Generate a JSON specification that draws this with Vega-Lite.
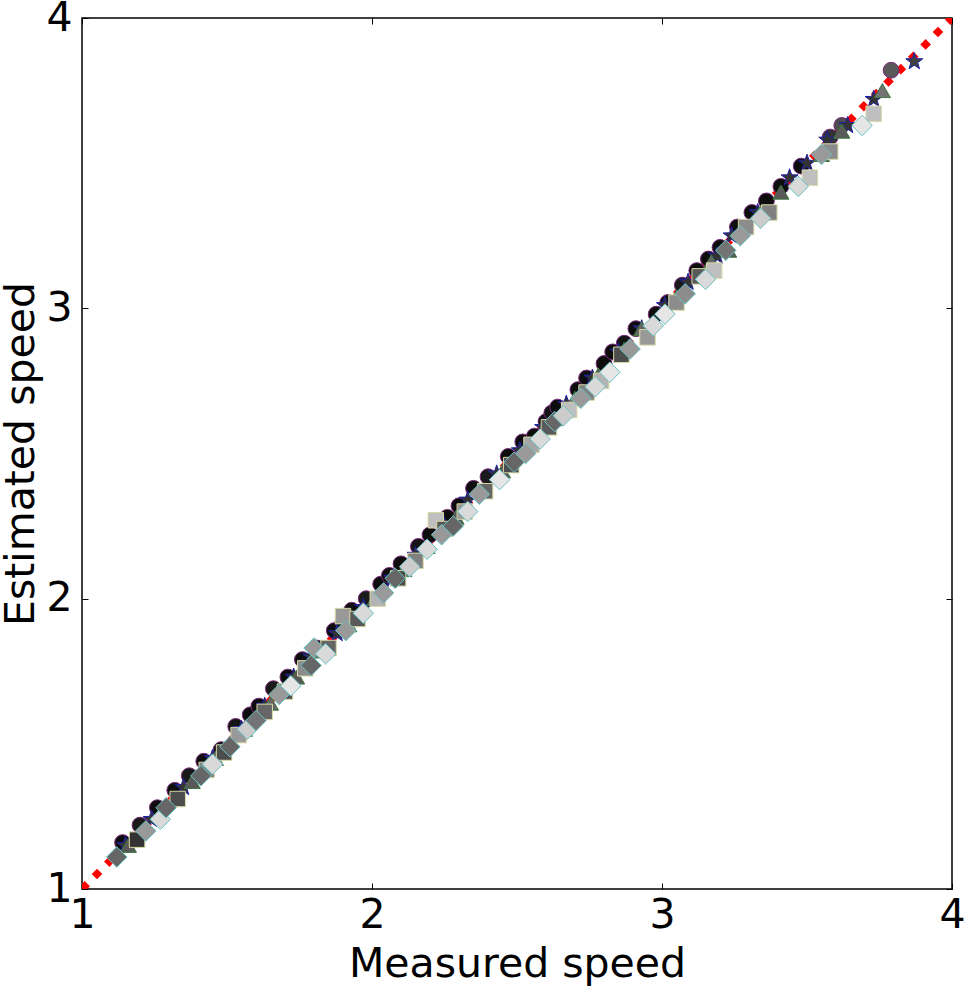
{
  "$schema": "https://vega.github.io/schema/vega-lite/v6.json",
  "width": 870,
  "height": 871,
  "autosize": {"type": "none"},
  "padding": {"left": 82, "top": 18, "right": 12, "bottom": 97},
  "background": "white",
  "config": {
    "view": {"stroke": "black", "strokeWidth": 1.5},
    "axis": {
      "grid": false,
      "domain": false,
      "labelFont": "DejaVu Sans",
      "labelFontSize": 41,
      "titleFont": "DejaVu Sans",
      "titleFontSize": 41,
      "titleFontWeight": "normal",
      "labelColor": "black",
      "titleColor": "black",
      "tickColor": "black",
      "tickSize": -6,
      "tickWidth": 1,
      "labelOverlap": false,
      "labelFlush": false,
      "labelBound": false
    }
  },
  "datasets": {
    "diag": [{"m": 1, "e": 1}, {"m": 4, "e": 4}],
    "pts": [
      {"m": 1.14, "e": 1.16, "s": "circle", "g": 0.05},
      {"m": 1.20, "e": 1.22, "s": "circle", "g": 0.1},
      {"m": 1.26, "e": 1.28, "s": "circle", "g": 0.05},
      {"m": 1.32, "e": 1.34, "s": "circle", "g": 0.05},
      {"m": 1.37, "e": 1.39, "s": "circle", "g": 0.1},
      {"m": 1.42, "e": 1.44, "s": "circle", "g": 0.05},
      {"m": 1.48, "e": 1.48, "s": "circle", "g": 0.05},
      {"m": 1.53, "e": 1.56, "s": "circle", "g": 0.08},
      {"m": 1.58, "e": 1.60, "s": "circle", "g": 0.05},
      {"m": 1.61, "e": 1.63, "s": "circle", "g": 0.05},
      {"m": 1.66, "e": 1.69, "s": "circle", "g": 0.1},
      {"m": 1.71, "e": 1.73, "s": "circle", "g": 0.05},
      {"m": 1.76, "e": 1.79, "s": "circle", "g": 0.05},
      {"m": 1.81, "e": 1.83, "s": "circle", "g": 0.08},
      {"m": 1.87, "e": 1.89, "s": "circle", "g": 0.05},
      {"m": 1.90, "e": 1.92, "s": "circle", "g": 0.05},
      {"m": 1.93, "e": 1.96, "s": "circle", "g": 0.05},
      {"m": 1.98, "e": 2.00, "s": "circle", "g": 0.1},
      {"m": 2.03, "e": 2.05, "s": "circle", "g": 0.05},
      {"m": 2.06, "e": 2.08, "s": "circle", "g": 0.05},
      {"m": 2.10, "e": 2.12, "s": "circle", "g": 0.05},
      {"m": 2.16, "e": 2.18, "s": "circle", "g": 0.08},
      {"m": 2.20, "e": 2.22, "s": "circle", "g": 0.05},
      {"m": 2.26, "e": 2.28, "s": "circle", "g": 0.05},
      {"m": 2.30, "e": 2.32, "s": "circle", "g": 0.05},
      {"m": 2.35, "e": 2.38, "s": "circle", "g": 0.05},
      {"m": 2.40, "e": 2.42, "s": "circle", "g": 0.1},
      {"m": 2.47, "e": 2.49, "s": "circle", "g": 0.05},
      {"m": 2.52, "e": 2.54, "s": "circle", "g": 0.05},
      {"m": 2.56, "e": 2.56, "s": "circle", "g": 0.05},
      {"m": 2.60, "e": 2.61, "s": "circle", "g": 0.05},
      {"m": 2.62, "e": 2.64, "s": "circle", "g": 0.08},
      {"m": 2.64, "e": 2.66, "s": "circle", "g": 0.05},
      {"m": 2.71, "e": 2.72, "s": "circle", "g": 0.05},
      {"m": 2.74, "e": 2.76, "s": "circle", "g": 0.05},
      {"m": 2.80, "e": 2.81, "s": "circle", "g": 0.05},
      {"m": 2.83, "e": 2.85, "s": "circle", "g": 0.05},
      {"m": 2.87, "e": 2.88, "s": "circle", "g": 0.08},
      {"m": 2.91, "e": 2.93, "s": "circle", "g": 0.05},
      {"m": 2.98, "e": 2.98, "s": "circle", "g": 0.05},
      {"m": 3.02, "e": 3.02, "s": "circle", "g": 0.05},
      {"m": 3.07, "e": 3.08, "s": "circle", "g": 0.1},
      {"m": 3.12, "e": 3.13, "s": "circle", "g": 0.05},
      {"m": 3.16, "e": 3.17, "s": "circle", "g": 0.05},
      {"m": 3.20, "e": 3.21, "s": "circle", "g": 0.05},
      {"m": 3.26, "e": 3.28, "s": "circle", "g": 0.05},
      {"m": 3.31, "e": 3.33, "s": "circle", "g": 0.05},
      {"m": 3.36, "e": 3.37, "s": "circle", "g": 0.05},
      {"m": 3.41, "e": 3.42, "s": "circle", "g": 0.05},
      {"m": 3.48, "e": 3.49, "s": "circle", "g": 0.05},
      {"m": 3.58, "e": 3.59, "s": "circle", "g": 0.2},
      {"m": 3.62, "e": 3.63, "s": "circle", "g": 0.3},
      {"m": 3.79, "e": 3.82, "s": "circle", "g": 0.35},

      {"m": 1.15, "e": 1.15, "s": "star", "g": 0.2},
      {"m": 1.24, "e": 1.24, "s": "star", "g": 0.2},
      {"m": 1.35, "e": 1.35, "s": "star", "g": 0.2},
      {"m": 1.45, "e": 1.45, "s": "star", "g": 0.2},
      {"m": 1.55, "e": 1.55, "s": "star", "g": 0.2},
      {"m": 1.63, "e": 1.63, "s": "star", "g": 0.2},
      {"m": 1.73, "e": 1.73, "s": "star", "g": 0.2},
      {"m": 1.79, "e": 1.80, "s": "star", "g": 0.2},
      {"m": 1.88, "e": 1.88, "s": "star", "g": 0.2},
      {"m": 1.97, "e": 1.97, "s": "star", "g": 0.2},
      {"m": 2.07, "e": 2.07, "s": "star", "g": 0.2},
      {"m": 2.15, "e": 2.15, "s": "star", "g": 0.2},
      {"m": 2.25, "e": 2.25, "s": "star", "g": 0.2},
      {"m": 2.33, "e": 2.34, "s": "star", "g": 0.2},
      {"m": 2.43, "e": 2.43, "s": "star", "g": 0.2},
      {"m": 2.51, "e": 2.51, "s": "star", "g": 0.2},
      {"m": 2.59, "e": 2.59, "s": "star", "g": 0.2},
      {"m": 2.67, "e": 2.67, "s": "star", "g": 0.2},
      {"m": 2.76, "e": 2.76, "s": "star", "g": 0.2},
      {"m": 2.85, "e": 2.85, "s": "star", "g": 0.2},
      {"m": 2.93, "e": 2.93, "s": "star", "g": 0.2},
      {"m": 3.01, "e": 3.01, "s": "star", "g": 0.2},
      {"m": 3.09, "e": 3.09, "s": "star", "g": 0.2},
      {"m": 3.19, "e": 3.18, "s": "star", "g": 0.2},
      {"m": 3.24, "e": 3.25, "s": "star", "g": 0.2},
      {"m": 3.33, "e": 3.33, "s": "star", "g": 0.2},
      {"m": 3.44, "e": 3.45, "s": "star", "g": 0.2},
      {"m": 3.50, "e": 3.50, "s": "star", "g": 0.2},
      {"m": 3.57, "e": 3.58, "s": "star", "g": 0.2},
      {"m": 3.64, "e": 3.63, "s": "star", "g": 0.2},
      {"m": 3.73, "e": 3.72, "s": "star", "g": 0.2},
      {"m": 3.87, "e": 3.85, "s": "star", "g": 0.25},

      {"m": 1.16, "e": 1.15, "s": "triangle", "g": 0.35},
      {"m": 1.27, "e": 1.26, "s": "triangle", "g": 0.4},
      {"m": 1.38, "e": 1.37, "s": "triangle", "g": 0.35},
      {"m": 1.46, "e": 1.45, "s": "triangle", "g": 0.4},
      {"m": 1.56, "e": 1.55, "s": "triangle", "g": 0.35},
      {"m": 1.65, "e": 1.64, "s": "triangle", "g": 0.4},
      {"m": 1.74, "e": 1.73, "s": "triangle", "g": 0.35},
      {"m": 1.83, "e": 1.82, "s": "triangle", "g": 0.4},
      {"m": 1.92, "e": 1.91, "s": "triangle", "g": 0.35},
      {"m": 2.01, "e": 2.00, "s": "triangle", "g": 0.4},
      {"m": 2.11, "e": 2.10, "s": "triangle", "g": 0.35},
      {"m": 2.19, "e": 2.18, "s": "triangle", "g": 0.4},
      {"m": 2.29, "e": 2.28, "s": "triangle", "g": 0.35},
      {"m": 2.38, "e": 2.37, "s": "triangle", "g": 0.4},
      {"m": 2.45, "e": 2.44, "s": "triangle", "g": 0.35},
      {"m": 2.54, "e": 2.53, "s": "triangle", "g": 0.4},
      {"m": 2.63, "e": 2.62, "s": "triangle", "g": 0.35},
      {"m": 2.70, "e": 2.69, "s": "triangle", "g": 0.4},
      {"m": 2.78, "e": 2.77, "s": "triangle", "g": 0.35},
      {"m": 2.87, "e": 2.86, "s": "triangle", "g": 0.3},
      {"m": 2.93, "e": 2.93, "s": "triangle", "g": 0.4},
      {"m": 3.05, "e": 3.04, "s": "triangle", "g": 0.35},
      {"m": 3.17, "e": 3.16, "s": "triangle", "g": 0.4},
      {"m": 3.23, "e": 3.20, "s": "triangle", "g": 0.35},
      {"m": 3.34, "e": 3.33, "s": "triangle", "g": 0.4},
      {"m": 3.41, "e": 3.40, "s": "triangle", "g": 0.35},
      {"m": 3.55, "e": 3.53, "s": "triangle", "g": 0.4},
      {"m": 3.62, "e": 3.61, "s": "triangle", "g": 0.35},
      {"m": 3.76, "e": 3.75, "s": "triangle", "g": 0.45},

      {"m": 1.19, "e": 1.17, "s": "square", "g": 0.2},
      {"m": 1.33, "e": 1.31, "s": "square", "g": 0.3},
      {"m": 1.43, "e": 1.41, "s": "square", "g": 0.5},
      {"m": 1.49, "e": 1.47, "s": "square", "g": 0.3},
      {"m": 1.54, "e": 1.53, "s": "square", "g": 0.6},
      {"m": 1.63, "e": 1.61, "s": "square", "g": 0.4},
      {"m": 1.70, "e": 1.68, "s": "square", "g": 0.3},
      {"m": 1.77, "e": 1.76, "s": "square", "g": 0.55},
      {"m": 1.85, "e": 1.83, "s": "square", "g": 0.4},
      {"m": 1.90, "e": 1.94, "s": "square", "g": 0.6},
      {"m": 1.95, "e": 1.93, "s": "square", "g": 0.35},
      {"m": 2.02, "e": 2.00, "s": "square", "g": 0.7},
      {"m": 2.09, "e": 2.07, "s": "square", "g": 0.3},
      {"m": 2.15, "e": 2.13, "s": "square", "g": 0.5},
      {"m": 2.22, "e": 2.27, "s": "square", "g": 0.75},
      {"m": 2.25, "e": 2.24, "s": "square", "g": 0.35},
      {"m": 2.32, "e": 2.30, "s": "square", "g": 0.6},
      {"m": 2.39, "e": 2.37, "s": "square", "g": 0.4},
      {"m": 2.48, "e": 2.46, "s": "square", "g": 0.3},
      {"m": 2.55, "e": 2.53, "s": "square", "g": 0.65},
      {"m": 2.61, "e": 2.59, "s": "square", "g": 0.35},
      {"m": 2.68, "e": 2.65, "s": "square", "g": 0.75},
      {"m": 2.74, "e": 2.71, "s": "square", "g": 0.5},
      {"m": 2.79, "e": 2.75, "s": "square", "g": 0.7},
      {"m": 2.86, "e": 2.84, "s": "square", "g": 0.3},
      {"m": 2.95, "e": 2.90, "s": "square", "g": 0.6},
      {"m": 3.05, "e": 3.02, "s": "square", "g": 0.55},
      {"m": 3.13, "e": 3.11, "s": "square", "g": 0.35},
      {"m": 3.18, "e": 3.13, "s": "square", "g": 0.75},
      {"m": 3.29, "e": 3.28, "s": "square", "g": 0.55},
      {"m": 3.37, "e": 3.33, "s": "square", "g": 0.5},
      {"m": 3.51, "e": 3.45, "s": "square", "g": 0.75},
      {"m": 3.58, "e": 3.54, "s": "square", "g": 0.55},
      {"m": 3.73, "e": 3.67, "s": "square", "g": 0.75},

      {"m": 1.12, "e": 1.11, "s": "diamond", "g": 0.4},
      {"m": 1.22, "e": 1.20, "s": "diamond", "g": 0.6},
      {"m": 1.27, "e": 1.24, "s": "diamond", "g": 0.85},
      {"m": 1.29, "e": 1.28, "s": "diamond", "g": 0.4},
      {"m": 1.41, "e": 1.39, "s": "diamond", "g": 0.4},
      {"m": 1.45, "e": 1.43, "s": "diamond", "g": 0.85},
      {"m": 1.51, "e": 1.49, "s": "diamond", "g": 0.4},
      {"m": 1.57, "e": 1.55, "s": "diamond", "g": 0.8},
      {"m": 1.60, "e": 1.58, "s": "diamond", "g": 0.45},
      {"m": 1.68, "e": 1.67, "s": "diamond", "g": 0.6},
      {"m": 1.72, "e": 1.70, "s": "diamond", "g": 0.9},
      {"m": 1.79, "e": 1.77, "s": "diamond", "g": 0.4},
      {"m": 1.80, "e": 1.83, "s": "diamond", "g": 0.6},
      {"m": 1.84, "e": 1.81, "s": "diamond", "g": 0.85},
      {"m": 1.91, "e": 1.89, "s": "diamond", "g": 0.6},
      {"m": 1.97, "e": 1.95, "s": "diamond", "g": 0.85},
      {"m": 2.04, "e": 2.02, "s": "diamond", "g": 0.6},
      {"m": 2.08, "e": 2.07, "s": "diamond", "g": 0.4},
      {"m": 2.13, "e": 2.11, "s": "diamond", "g": 0.8},
      {"m": 2.19, "e": 2.17, "s": "diamond", "g": 0.85},
      {"m": 2.24, "e": 2.22, "s": "diamond", "g": 0.6},
      {"m": 2.28, "e": 2.25, "s": "diamond", "g": 0.4},
      {"m": 2.33, "e": 2.30, "s": "diamond", "g": 0.85},
      {"m": 2.37, "e": 2.36, "s": "diamond", "g": 0.6},
      {"m": 2.44, "e": 2.41, "s": "diamond", "g": 0.9},
      {"m": 2.49, "e": 2.47, "s": "diamond", "g": 0.4},
      {"m": 2.53, "e": 2.50, "s": "diamond", "g": 0.6},
      {"m": 2.58, "e": 2.55, "s": "diamond", "g": 0.85},
      {"m": 2.63, "e": 2.61, "s": "diamond", "g": 0.4},
      {"m": 2.66, "e": 2.63, "s": "diamond", "g": 0.8},
      {"m": 2.72, "e": 2.69, "s": "diamond", "g": 0.6},
      {"m": 2.77, "e": 2.73, "s": "diamond", "g": 0.85},
      {"m": 2.82, "e": 2.78, "s": "diamond", "g": 0.9},
      {"m": 2.89, "e": 2.86, "s": "diamond", "g": 0.6},
      {"m": 2.97, "e": 2.94, "s": "diamond", "g": 0.85},
      {"m": 3.01, "e": 2.98, "s": "diamond", "g": 0.9},
      {"m": 3.08, "e": 3.05, "s": "diamond", "g": 0.55},
      {"m": 3.15, "e": 3.10, "s": "diamond", "g": 0.85},
      {"m": 3.22, "e": 3.20, "s": "diamond", "g": 0.45},
      {"m": 3.27, "e": 3.25, "s": "diamond", "g": 0.6},
      {"m": 3.34, "e": 3.31, "s": "diamond", "g": 0.8},
      {"m": 3.47, "e": 3.42, "s": "diamond", "g": 0.85},
      {"m": 3.55, "e": 3.53, "s": "diamond", "g": 0.6},
      {"m": 3.69, "e": 3.63, "s": "diamond", "g": 0.9}
    ]
  },
  "layer": [
    {
      "data": {"name": "diag"},
      "mark": {"type": "line", "color": "#ff0000", "strokeWidth": 7.5, "strokeDash": [7.5, 10], "strokeCap": "butt", "clip": true},
      "encoding": {
        "x": {"field": "m", "type": "quantitative", "scale": {"domain": [1, 4], "nice": false, "zero": false},
          "axis": {"orient": "bottom", "values": [1, 2, 3, 4], "format": "d", "title": "Measured speed", "labelPadding": 12, "labelBaseline": "top", "titleY": 87, "titleBaseline": "alphabetic"}},
        "y": {"field": "e", "type": "quantitative", "scale": {"domain": [1, 4], "nice": false, "zero": false},
          "axis": {"orient": "left", "values": [1, 2, 3, 4], "format": "d", "title": "Estimated speed", "labelPadding": 16, "titleX": -49, "titleBaseline": "alphabetic"}}
      }
    },
    {
      "data": {"name": "pts"},
      "mark": {"type": "point", "filled": true, "opacity": 1, "fillOpacity": 1, "strokeWidth": 1, "clip": true},
      "encoding": {
        "x": {"field": "m", "type": "quantitative", "scale": {"domain": [1, 4], "nice": false, "zero": false},
          "axis": {"orient": "top", "values": [1, 2, 3, 4], "labels": false, "title": null}},
        "y": {"field": "e", "type": "quantitative", "scale": {"domain": [1, 4], "nice": false, "zero": false},
          "axis": {"orient": "right", "values": [1, 2, 3, 4], "labels": false, "title": null}},
        "shape": {"field": "s", "type": "nominal", "legend": null,
          "scale": {"domain": ["circle", "star", "triangle", "square", "diamond"], "range": ["circle", "M0,-1L0.235,-0.324L0.951,-0.309L0.38,0.124L0.588,0.809L0,0.4L-0.588,0.809L-0.38,0.124L-0.951,-0.309L-0.235,-0.324Z", "triangle-up", "square", "diamond"]}},
        "size": {"field": "s", "type": "nominal", "legend": null,
          "scale": {"type": "ordinal", "domain": ["circle", "star", "triangle", "square", "diamond"], "range": [250, 320, 260, 240, 420]}},
        "stroke": {"field": "s", "type": "nominal", "legend": null,
          "scale": {"domain": ["circle", "star", "triangle", "square", "diamond"], "range": ["#7a2a7a", "#1f1fa8", "#3d7a3d", "#d9d9a6", "#66c4c4"]}},
        "fill": {"field": "g", "type": "quantitative", "legend": null,
          "scale": {"domain": [0, 1], "range": ["#000000", "#ffffff"], "interpolate": "rgb"}}
      }
    }
  ],
  "resolve": {"scale": {"x": "independent", "y": "independent"}, "axis": {"x": "independent", "y": "independent"}}
}
